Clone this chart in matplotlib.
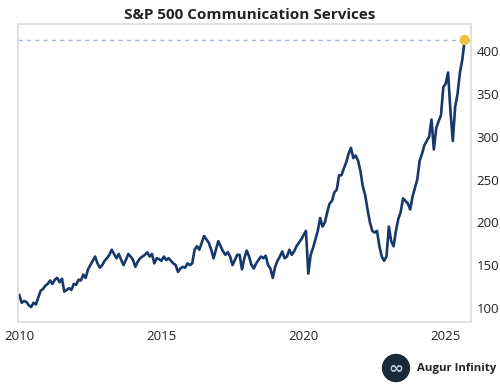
import numpy as np
import matplotlib
matplotlib.use("Agg")
import matplotlib.pyplot as plt
from matplotlib.patches import Circle

# Monthly values (Jan 2010 .. Sep 2025)
years = list(range(2010, 2026))
values = [
    # 2010
    115, 106, 108, 107, 103, 101, 106, 104, 112, 120, 122, 126,
    # 2011
    128, 132, 128, 133, 135, 130, 134, 119, 121, 123, 121, 128,
    # 2012
    127, 133, 132, 139, 135, 145, 150, 155, 160, 152, 147, 150,
    # 2013
    155, 158, 162, 168, 163, 158, 163, 156, 150, 156, 163, 160,
    # 2014
    156, 148, 154, 158, 160, 162, 165, 160, 163, 152, 158, 157,
    # 2015
    155, 160, 156, 158, 155, 152, 150, 142, 146, 148, 147, 152,
    # 2016
    150, 152, 168, 172, 168, 176, 184, 180, 176, 168, 158, 168,
    # 2017
    178, 172, 166, 162, 165, 160, 150, 156, 162, 162, 145, 158,
    # 2018
    167, 160, 150, 146, 152, 156, 160, 158, 161, 150, 146, 135,
    # 2019
    148, 155, 160, 166, 158, 160, 168, 162, 166, 172, 176, 180,
    # 2020
    185, 190, 140, 162, 170, 180, 190, 205, 195, 200, 212, 222,
    # 2021
    225, 235, 238, 255, 255, 263, 270, 280, 287, 275, 278, 272,
    # 2022
    260, 242, 232, 215, 200, 190, 188, 190, 172, 160, 155, 160,
    # 2023
    195, 178, 172, 190, 204, 212, 228, 225, 222, 215, 230, 240,
    # 2024
    250, 272, 280, 290, 295, 300, 320, 285, 310, 318, 325, 358,
    # 2025
    362, 375, 330, 295, 335, 350, 375, 390, 413,
]
x_ticks = [2010, 2015, 2020, 2025]
y_ticks = [100, 150, 200, 250, 300, 350, 400]

t = np.array([2010 + i / 12 for i in range(len(values))])
v = np.array(values, dtype=float)

plt.rcParams['font.family'] = ['Open Sans', 'DejaVu Sans']

fig = plt.figure(figsize=(5, 3.9), dpi=100)
ax = fig.add_axes([0.036, 0.175, 0.906, 0.763])

ax.axhline(v[-1], color='#a9bad6', lw=1.0, ls=(0, (3, 3)), zorder=1)
ax.plot(t, v, color='#17386b', lw=1.9, zorder=2, solid_joinstyle='round')
ax.scatter([t[-1]], [v[-1]], s=55, color='#f2c23e', zorder=3, edgecolor='none')

ax.set_xlim(2009.954, 2025.89)
ax.set_ylim(83.8, 431.5)
ax.set_xticks(x_ticks)
ax.set_xticklabels([str(x) for x in x_ticks])
ax.set_yticks(y_ticks)
ax.set_yticklabels([str(y) for y in y_ticks])
ax.yaxis.tick_right()
ax.tick_params(axis='both', length=0, labelsize=9.5, colors='#222222')
ax.tick_params(axis='x', pad=6)
ax.tick_params(axis='y', pad=4)
for s in ax.spines.values():
    s.set_color('#dcdcdc')
    s.set_linewidth(1.2)

fig.text(0.5, 0.962, 'S&P 500 Communication Services', ha='center', va='center',
         fontsize=11, fontweight='bold', color='#222222')

# Logo
logo_ax = fig.add_axes([0, 0, 1, 1], facecolor='none')
logo_ax.set_xlim(0, 500)
logo_ax.set_ylim(390, 0)
logo_ax.axis('off')
logo_ax.add_patch(Circle((396, 368), 13.5, color='#1b2a3a'))
logo_ax.text(396, 368.5, '∞', ha='center', va='center', fontsize=13, color='#b9cde6',
             family='DejaVu Sans', fontweight='bold')
logo_ax.text(417, 368, 'Augur Infinity', ha='left', va='center', fontsize=8.2,
             fontweight='bold', color='#222222')

fig.savefig('out.png', dpi=100)
